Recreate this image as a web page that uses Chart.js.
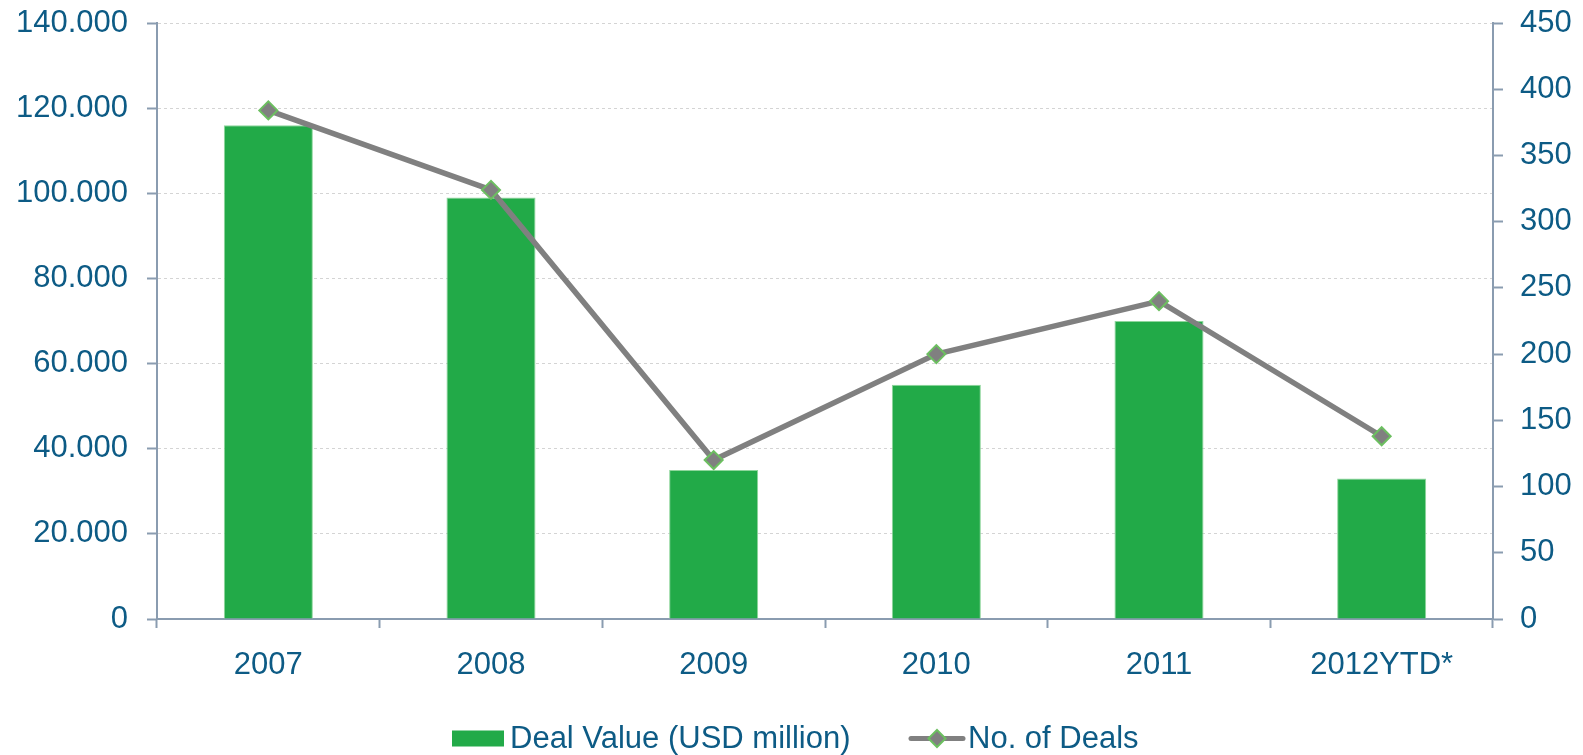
<!DOCTYPE html>
<html>
<head>
<meta charset="utf-8">
<script src="https://cdn.jsdelivr.net/npm/chart.js@4/dist/chart.umd.min.js"></script>
<style>
  html, body { margin: 0; padding: 0; background: #ffffff; }
  #wrap { width: 1583px; height: 755px; }
</style>
</head>
<body>
<div id="wrap"><canvas id="c" width="1583" height="755"></canvas></div>
<script>
const categories = ['2007', '2008', '2009', '2010', '2011', '2012YTD*'];
const dealValue = [116000, 99000, 35000, 55000, 70000, 33000];
const dealCount = [384, 324, 120, 200, 240, 138];
const leftTickLabels = ['0', '20.000', '40.000', '60.000', '80.000', '100.000', '120.000', '140.000'];
const rightTickLabels = ['0', '50', '100', '150', '200', '250', '300', '350', '400', '450'];
const seriesNames = ['Deal Value (USD million)', 'No. of Deals'];

const TEXT = '#0d5b85';
const AXIS = '#8a9cb0';
const GREEN = '#22aa48';
const GREY = '#808080';
const MARK_BORDER = '#6cbf60';
const FONT = '"Liberation Sans", Arial, sans-serif';

const legendPlugin = {
  id: 'customLegend',
  afterDraw(chart) {
    const ctx = chart.ctx;
    ctx.save();
    ctx.font = '31px ' + FONT;
    ctx.textBaseline = 'alphabetic';
    const yMid = 738.5;
    // bar item
    ctx.fillStyle = GREEN;
    ctx.fillRect(452, yMid - 8, 52, 16);
    ctx.fillStyle = TEXT;
    ctx.fillText(seriesNames[0], 510, 747.5);
    // line item
    ctx.strokeStyle = GREY;
    ctx.lineWidth = 5;
    ctx.lineCap = 'round';
    ctx.beginPath();
    ctx.moveTo(911, yMid);
    ctx.lineTo(963, yMid);
    ctx.stroke();
    ctx.beginPath();
    const cx = 937, r = 8.5;
    ctx.moveTo(cx, yMid - r);
    ctx.lineTo(cx + r, yMid);
    ctx.lineTo(cx, yMid + r);
    ctx.lineTo(cx - r, yMid);
    ctx.closePath();
    ctx.fillStyle = GREY;
    ctx.fill();
    ctx.lineWidth = 2;
    ctx.strokeStyle = MARK_BORDER;
    ctx.stroke();
    ctx.fillStyle = TEXT;
    ctx.fillText(seriesNames[1], 968, 747.5);
    ctx.restore();
  }
};

new Chart(document.getElementById('c'), {
  data: {
    labels: categories,
    datasets: [
      {
        type: 'line',
        label: seriesNames[1],
        data: dealCount,
        yAxisID: 'yR',
        order: 0,
        borderColor: GREY,
        borderWidth: 5.5,
        tension: 0,
        pointStyle: 'rectRot',
        pointRadius: 9,
        pointBorderWidth: 2,
        pointBackgroundColor: GREY,
        pointBorderColor: MARK_BORDER,
        fill: false
      },
      {
        type: 'bar',
        label: seriesNames[0],
        data: dealValue,
        yAxisID: 'yL',
        order: 1,
        backgroundColor: GREEN,
        borderColor: '#8fd69c',
        borderWidth: 1,
        borderSkipped: 'bottom',
        categoryPercentage: 1.0,
        barPercentage: 0.4
      }
    ]
  },
  options: {
    responsive: false,
    devicePixelRatio: 1,
    animation: false,
    layout: { autoPadding: false, padding: { top: 23, bottom: 56, left: 0, right: 0 } },
    plugins: {
      legend: { display: false },
      tooltip: { enabled: false }
    },
    scales: {
      x: {
        position: 'bottom',
        offset: true,
        afterFit(s) { s.height = 80; s.paddingLeft = 0; s.paddingRight = 0; },
        grid: {
          offset: true,
          drawOnChartArea: false,
          drawTicks: true,
          tickLength: 9,
          tickColor: AXIS,
          tickWidth: 2,
          color: AXIS
        },
        border: { display: true, color: AXIS, width: 2 },
        ticks: {
          color: TEXT,
          font: { family: FONT, size: 31 },
          padding: 19,
          maxRotation: 0,
          autoSkip: false
        }
      },
      yL: {
        position: 'left',
        min: 0,
        max: 140000,
        afterFit(s) { s.width = 157; s.paddingTop = 0; s.paddingBottom = 0; },
        afterBuildTicks(s) {
          s.ticks = leftTickLabels.map((t, i) => ({ value: i * 20000 }));
        },
        grid: {
          drawOnChartArea: true,
          color: '#d4d4d4',
          lineWidth: 1,
          tickLength: 10,
          tickColor: AXIS,
          tickWidth: 2
        },
        border: { display: true, color: AXIS, width: 2, dash: [3, 3] },
        ticks: {
          color: TEXT,
          font: { family: FONT, size: 31 },
          padding: 19,
          callback: (v, i) => leftTickLabels[i]
        }
      },
      yR: {
        position: 'right',
        min: 0,
        max: 450,
        afterFit(s) { s.width = 90; s.paddingTop = 0; s.paddingBottom = 0; },
        afterBuildTicks(s) {
          s.ticks = rightTickLabels.map((t, i) => ({ value: i * 50 }));
        },
        grid: {
          drawOnChartArea: false,
          tickLength: 10,
          tickColor: AXIS,
          tickWidth: 2,
          color: AXIS
        },
        border: { display: true, color: AXIS, width: 2 },
        ticks: {
          color: TEXT,
          font: { family: FONT, size: 31 },
          padding: 17,
          callback: (v, i) => rightTickLabels[i]
        }
      }
    }
  },
  plugins: [legendPlugin]
});
</script>
</body>
</html>
